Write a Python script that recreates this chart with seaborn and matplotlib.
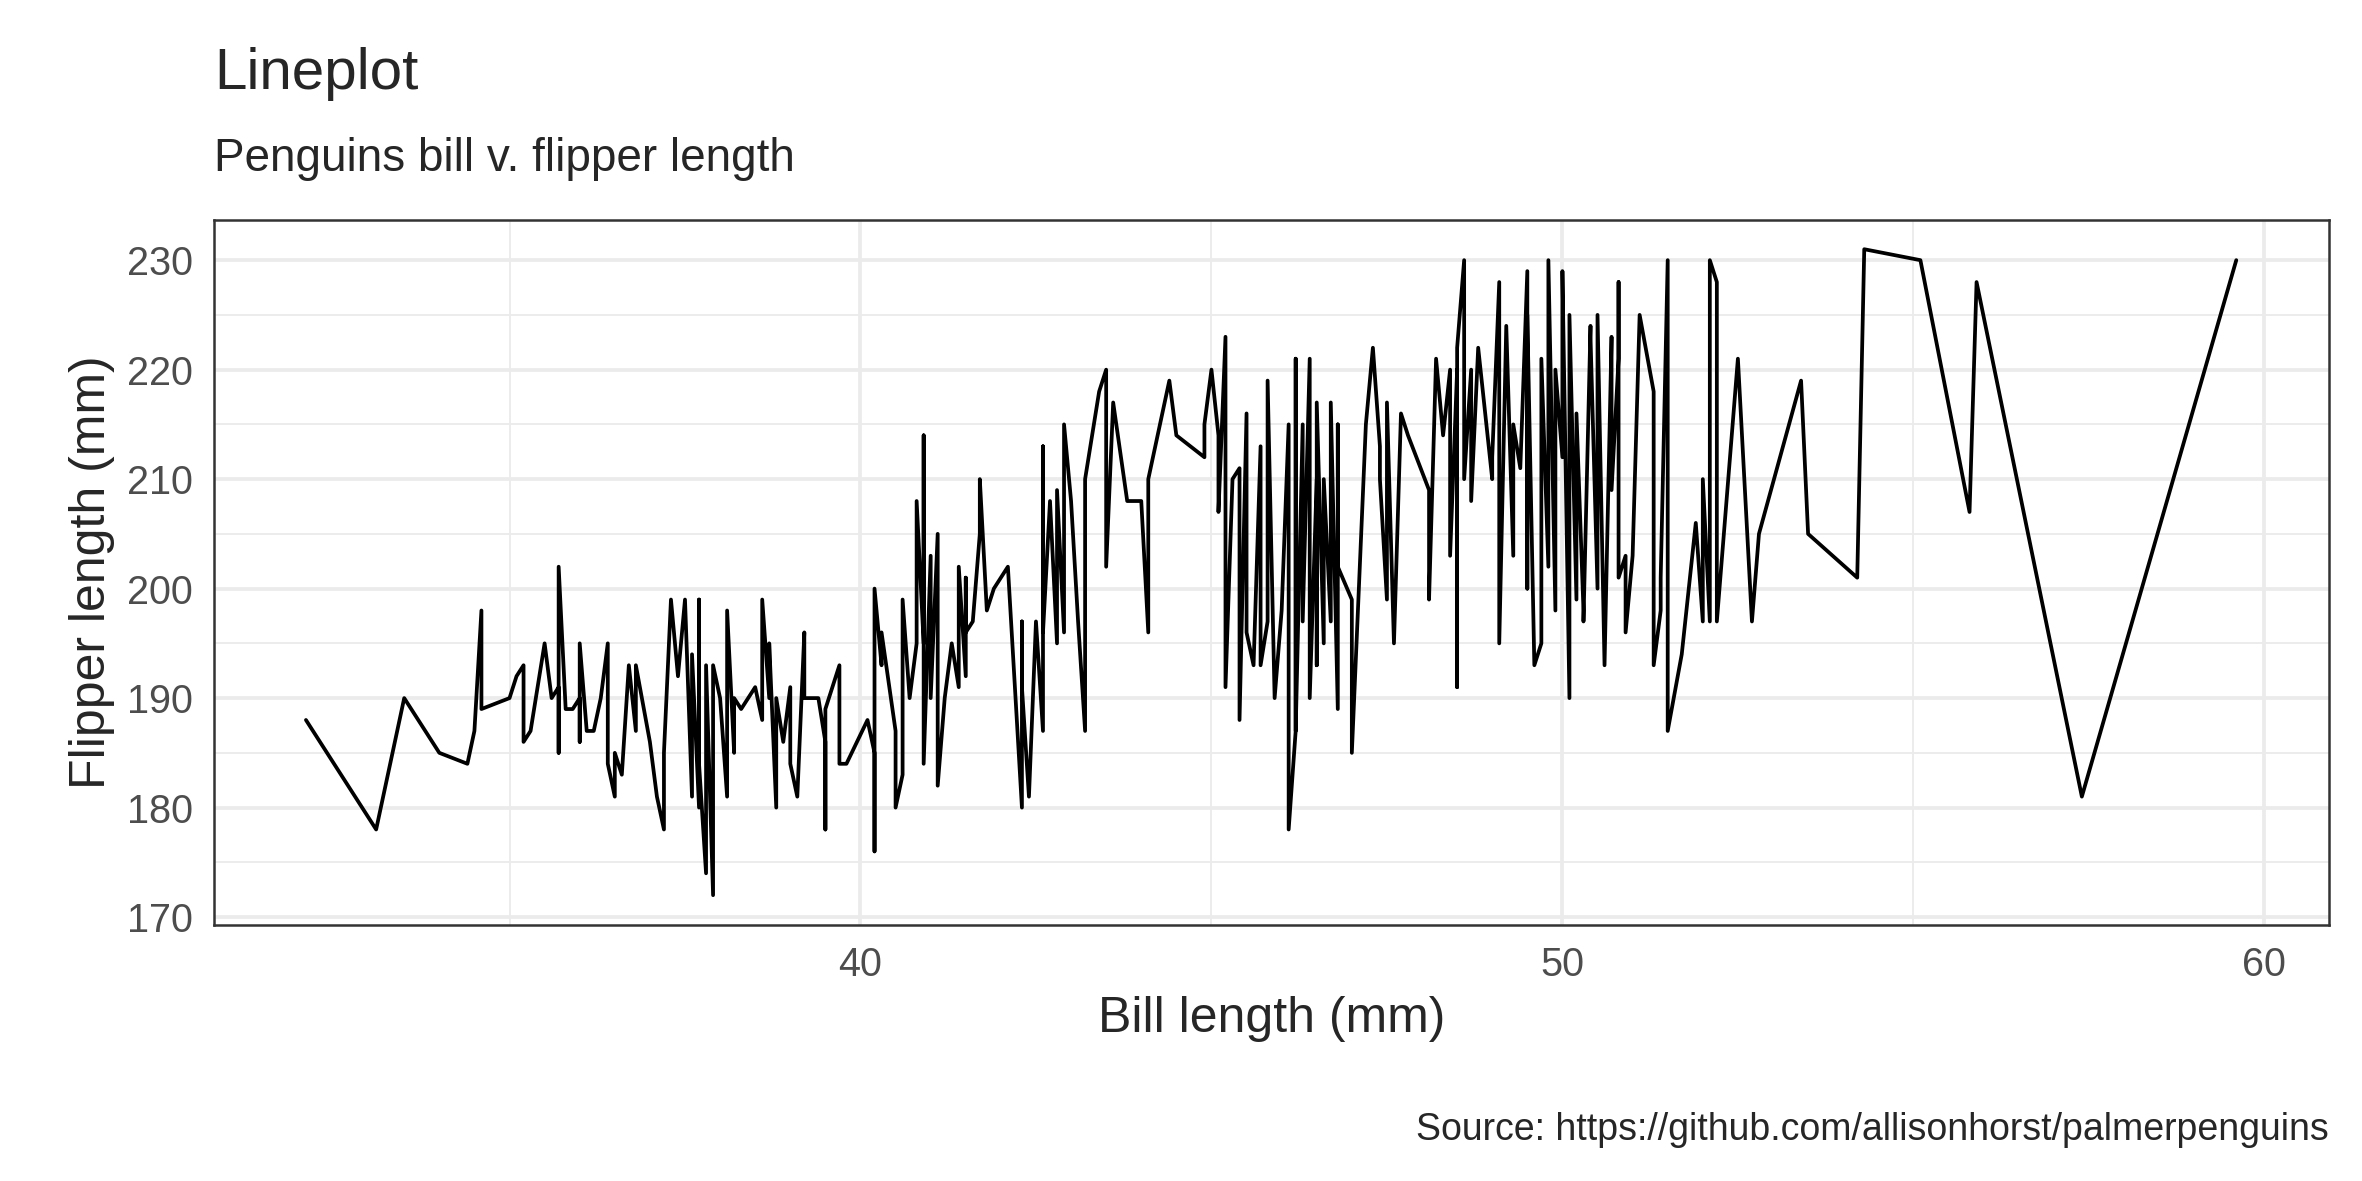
import matplotlib
matplotlib.use('Agg')
import matplotlib.pyplot as plt
import seaborn as sns
import pandas as pd

bill_length = [32.1, 33.1, 33.5, 34.0, 34.4, 34.5, 34.6, 34.6, 35.0, 35.1, 35.2, 35.2, 35.3, 35.5, 35.6, 35.7, 35.7, 35.7, 35.8, 35.9,
               36.0, 36.0, 36.0, 36.1, 36.2, 36.3, 36.4, 36.4, 36.5, 36.5, 36.6, 36.7, 36.8, 36.8, 37.0, 37.1, 37.2, 37.2, 37.3, 37.4,
               37.5, 37.6, 37.6, 37.7, 37.7, 37.7, 37.8, 37.8, 37.9, 37.9, 38.0, 38.1, 38.1, 38.2, 38.2, 38.3, 38.5, 38.6, 38.6, 38.7,
               38.7, 38.8, 38.8, 38.9, 39.0, 39.0, 39.1, 39.2, 39.2, 39.4, 39.5, 39.5, 39.5, 39.7, 39.7, 39.8, 40.1, 40.2, 40.2, 40.2,
               40.3, 40.3, 40.5, 40.5, 40.6, 40.6, 40.7, 40.8, 40.8, 40.9, 40.9, 40.9, 41.0, 41.0, 41.1, 41.1, 41.2, 41.3, 41.4, 41.4,
               41.5, 41.5, 41.5, 41.6, 41.7, 41.7, 41.8, 41.9, 42.1, 42.3, 42.3, 42.3, 42.4, 42.5, 42.6, 42.6, 42.6, 42.7, 42.8, 42.8,
               42.9, 42.9, 43.0, 43.1, 43.2, 43.2, 43.4, 43.5, 43.5, 43.6, 43.8, 44.0, 44.1, 44.1, 44.4, 44.5, 44.9, 44.9, 45.0, 45.1,
               45.1, 45.2, 45.2, 45.3, 45.4, 45.4, 45.5, 45.5, 45.6, 45.7, 45.7, 45.8, 45.8, 45.9, 46.0, 46.1, 46.1, 46.2, 46.2, 46.2,
               46.3, 46.3, 46.4, 46.4, 46.5, 46.5, 46.5, 46.6, 46.6, 46.7, 46.7, 46.8, 46.8, 46.8, 47.0, 47.0, 47.2, 47.3, 47.4, 47.4,
               47.5, 47.5, 47.6, 47.7, 47.8, 48.1, 48.1, 48.2, 48.3, 48.4, 48.4, 48.5, 48.5, 48.5, 48.6, 48.6, 48.7, 48.7, 48.8, 48.9,
               49.0, 49.0, 49.1, 49.1, 49.2, 49.3, 49.3, 49.4, 49.5, 49.5, 49.5, 49.6, 49.7, 49.7, 49.8, 49.8, 49.9, 49.9, 50.0, 50.0,
               50.1, 50.1, 50.2, 50.2, 50.3, 50.3, 50.4, 50.4, 50.5, 50.5, 50.6, 50.7, 50.7, 50.8, 50.8, 50.8, 50.9, 50.9, 51.0, 51.1,
               51.3, 51.3, 51.4, 51.4, 51.5, 51.5, 51.7, 51.9, 52.0, 52.0, 52.1, 52.1, 52.2, 52.2, 52.5, 52.7, 52.8, 53.4, 53.5, 54.2,
               54.3, 55.1, 55.8, 55.9, 57.4, 59.6]
flipper_length = [188, 178, 190, 185, 184, 187, 198, 189, 190, 192, 193, 186, 187, 195, 190, 191, 185, 202, 189, 189,
                  190, 186, 195, 187, 187, 190, 195, 184, 181, 185, 183, 193, 187, 193, 186, 181, 178, 185, 199, 192,
                  199, 181, 194, 180, 199, 184, 174, 193, 172, 193, 190, 181, 198, 185, 190, 189, 191, 188, 199, 190,
                  195, 180, 190, 186, 191, 184, 181, 196, 190, 190, 186, 178, 189, 193, 184, 184, 188, 185, 176, 200,
                  193, 196, 187, 180, 183, 199, 190, 195, 208, 195, 214, 184, 203, 190, 205, 182, 190, 195, 191, 202,
                  192, 201, 196, 197, 205, 210, 198, 200, 202, 180, 197, 191, 181, 197, 187, 213, 196, 208, 195, 209,
                  196, 215, 208, 197, 187, 210, 218, 220, 202, 217, 208, 208, 196, 210, 219, 214, 212, 215, 220, 214,
                  207, 223, 191, 210, 211, 188, 216, 196, 193, 213, 193, 197, 219, 190, 198, 215, 178, 187, 221, 187,
                  215, 197, 221, 190, 210, 193, 217, 195, 210, 197, 217, 189, 215, 202, 199, 185, 215, 222, 213, 210,
                  199, 217, 195, 216, 214, 209, 199, 221, 214, 220, 203, 220, 191, 222, 230, 210, 220, 208, 222, 216,
                  210, 212, 228, 195, 224, 203, 215, 211, 229, 200, 225, 193, 195, 221, 202, 230, 198, 220, 212, 229,
                  190, 225, 199, 216, 198, 197, 224, 223, 200, 225, 193, 223, 209, 221, 228, 201, 203, 196, 203, 225,
                  218, 193, 198, 201, 230, 187, 194, 206, 197, 210, 197, 230, 228, 197, 221, 197, 205, 219, 205, 201,
                  231, 230, 207, 228, 181, 230]

df = pd.DataFrame({'bill': bill_length, 'flipper': flipper_length})

sns.set_style('whitegrid')
plt.rcParams['font.family'] = ['Liberation Sans', 'DejaVu Sans']

fig = plt.figure(figsize=(2362/300, 1181/300), dpi=300)
ax = fig.add_axes([0.0906, 0.217, 0.8954, 0.597])
sns.lineplot(data=df, x='bill', y='flipper', sort=False, estimator=None, color='black', linewidth=0.9, ax=ax)

ax.set_xlim(30.79, 60.92)
ax.set_ylim(169.3, 233.7)
ax.set_xticks([40, 50, 60])
ax.set_yticks(range(170, 231, 10))
ax.set_xticks([35, 45, 55], minor=True)
ax.set_yticks(range(175, 231, 10), minor=True)
ax.grid(which='major', color='#ebebeb', linewidth=0.9)
ax.grid(which='minor', color='#ebebeb', linewidth=0.45)
for s in ax.spines.values():
    s.set_color('#333333')
    s.set_linewidth(0.6)
ax.tick_params(which='major', length=3, width=0.6, color='#333333', labelsize=9.5, labelcolor='#4d4d4d', pad=2)
ax.tick_params(which='minor', length=0)
ax.set_xlabel('Bill length (mm)', fontsize=12, labelpad=3)
ax.set_ylabel('Flipper length (mm)', fontsize=12, labelpad=3)

fig.text(0.0906, 0.925, 'Lineplot', fontsize=14, ha='left', va='baseline')
fig.text(0.0906, 0.855, 'Penguins bill v. flipper length', fontsize=11, ha='left', va='baseline')
fig.text(0.986, 0.035, 'Source: https://github.com/allisonhorst/palmerpenguins', fontsize=9, ha='right', va='baseline')

fig.savefig('out.png', dpi=300)
